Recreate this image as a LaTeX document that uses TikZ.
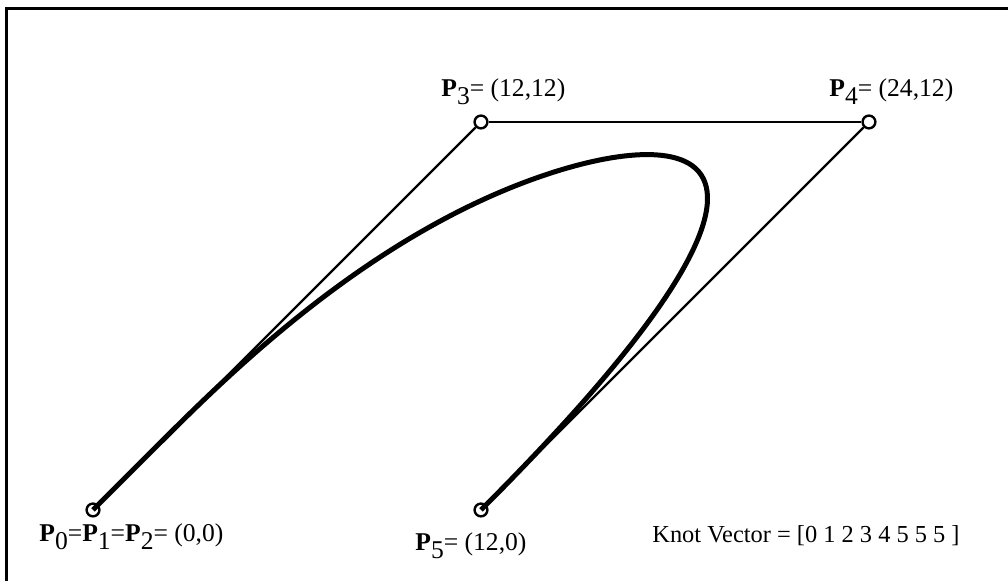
\documentclass[tikz,border=0pt]{standalone}
\usepackage{fontspec}
\setmainfont{Liberation Serif}
\usetikzlibrary{positioning}
\newcommand{\subpt}[1]{\raisebox{-0.3em}{#1}}
\tikzset{
  ptctrl/.style={circle, draw, fill=white, line width=1.2pt,
    minimum size=6.4pt, inner sep=0pt},
  poligono/.style={line width=1.1pt},
  curva/.style={line width=2.5pt},
  marco/.style={line width=1.5pt},
  etiq/.style={font=\fontsize{12.2}{14}\selectfont, inner sep=0pt, anchor=base west},
  etiqpt/.style={etiq, font=\fontsize{12.8}{15}\selectfont}
}

\begin{document}
\begin{tikzpicture}[x=16.1667pt,y=16.1667pt]
\useasboundingbox (-2.876,-2.196) rectangle (28.30,15.773);
\clip (-2.876,-2.196) rectangle (28.30,15.773);

% marco
\draw[marco] (-2.66,-5) rectangle (31,15.495);

% puntos de control
\node[ptctrl] (p0) at (0,0) {};
\node[ptctrl] (p3) at (12,12) {};
\node[ptctrl] (p4) at (24,12) {};
\node[ptctrl] (p5) at (12,0) {};

% poligono de control
\draw[poligono] (p0) -- (p3);
\draw[poligono] (p3) -- (p4);
\draw[poligono] (p4) -- (p5);

% curva B-spline cubica
\draw[curva] (p0.center) -- (2,2)
      .. controls (4,4) and (8,8) .. (13,10)
      .. controls (18,12) and (24,12) .. (p5.center);

% etiquetas
\node[etiqpt] (l0) at (-1.670,-0.990)
  {\textbf{P}\subpt{0}=\textbf{P}\subpt{1}=\textbf{P}\subpt{2}= (0,0)};
\node[etiqpt] (l3) at (10.763,12.773) {\textbf{P}\subpt{3}= (12,12)};
\node[etiqpt] (l4) at (22.763,12.773) {\textbf{P}\subpt{4}= (24,12)};
\node[etiqpt] (l5) at (9.959,-1.268) {\textbf{P}\subpt{5}= (12,0)};
\node[etiq] (nudos) at (17.289,-1.021) {Knot Vector = [0 1 2 3 4 5 5 5 ]};

\end{tikzpicture}
\end{document}
